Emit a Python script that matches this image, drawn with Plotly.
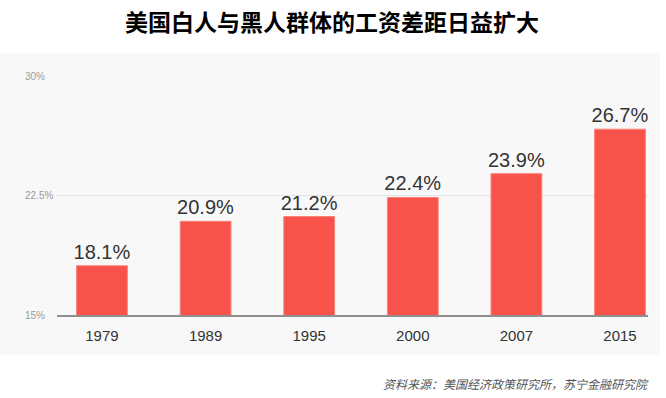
import plotly.graph_objects as go

years = ["1979", "1989", "1995", "2000", "2007", "2015"]
gap = [18.1, 20.9, 21.2, 22.4, 23.9, 26.7]
gap_labels = ["18.1%", "20.9%", "21.2%", "22.4%", "23.9%", "26.7%"]
y_ticks = [15, 22.5, 30]
y_tick_labels = ["15%", "22.5%", "30%"]

title = "美国白人与黑人群体的工资差距日益扩大"
source = "资料来源：美国经济政策研究所，苏宁金融研究院"

W, H = 666, 398
L, R, T, B = 57, 18, 76, 83
pw, ph = W - L - R, H - T - B

def px2paper_x(px):
    return (px - L) / pw

def px2paper_y(py):
    return (H - B - py) / ph

fig = go.Figure()
fig.add_trace(go.Bar(
    x=years, y=gap, text=gap_labels, textposition="outside", constraintext="none",
    textfont=dict(family="Liberation Sans, Arial, sans-serif", size=20, color="#333333"),
    marker=dict(color="#f7534a", line=dict(color="#fb8178", width=1)),
    width=0.49, cliponaxis=False, hoverinfo="skip",
))

# panel background
fig.add_shape(type="rect", xref="paper", yref="paper",
              x0=px2paper_x(0), x1=px2paper_x(660),
              y0=px2paper_y(355), y1=px2paper_y(53),
              fillcolor="#f8f8f8", line=dict(width=0), layer="below")

annotations = []
for v, t in zip(y_ticks, y_tick_labels):
    annotations.append(dict(x=px2paper_x(23), xref="paper", y=v, yref="y",
                            text=t, showarrow=False, xanchor="left", yanchor="middle",
                            font=dict(family="Liberation Sans, Arial, sans-serif", size=10, color="#9a9a9a")))
annotations.append(dict(x=px2paper_x(332), xref="paper", y=px2paper_y(21), yref="paper",
                        text="<b>" + title + "</b>", showarrow=False,
                        xanchor="center", yanchor="middle",
                        font=dict(family="Noto Sans CJK SC, sans-serif", size=23, color="#000000")))
annotations.append(dict(x=px2paper_x(651), xref="paper", y=px2paper_y(383), yref="paper",
                        text="<i>" + source + "</i>", showarrow=False,
                        xanchor="right", yanchor="middle",
                        font=dict(family="Noto Sans CJK SC, sans-serif", size=12, color="#555555")))

fig.update_layout(
    width=W, height=H,
    margin=dict(l=L, r=R, t=T, b=B, pad=0),
    paper_bgcolor="#ffffff", plot_bgcolor="rgba(0,0,0,0)",
    showlegend=False, bargap=0.5,
    annotations=annotations,
    xaxis=dict(type="category", range=[-0.434, 5.27], showgrid=False,
               showline=True, linecolor="#8f8f8f", linewidth=1.5,
               ticks="", ticklabelstandoff=6,
               tickfont=dict(family="Liberation Sans, Arial, sans-serif", size=15, color="#333333")),
    yaxis=dict(range=[15, 30.05], tickvals=y_ticks, showticklabels=False,
               showgrid=True, gridcolor="#e3e3e6", gridwidth=1,
               zeroline=False, ticks=""),
)

fig.write_html("out.html", config={"displayModeBar": False},
               post_script="document.body.style.margin='0';")
